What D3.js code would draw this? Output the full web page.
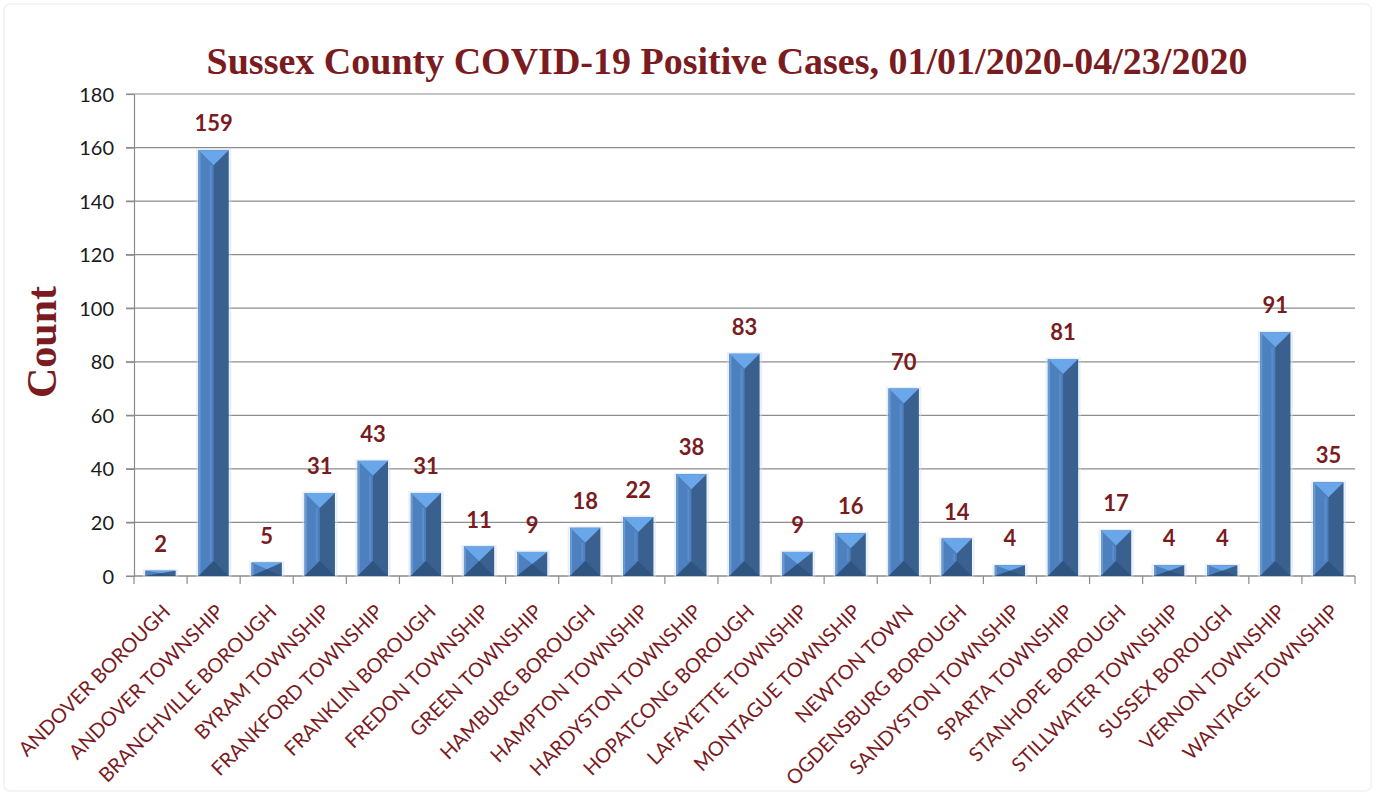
<!DOCTYPE html>
<html><head><meta charset="utf-8">
<script src="https://cdn.jsdelivr.net/npm/d3@7"></script>
<style>
html,body{margin:0;padding:0;background:#fff;}
svg{display:block;}
</style></head>
<body>
<svg id="chart" width="1375" height="803"></svg>
<script>
const categories = ["ANDOVER BOROUGH","ANDOVER TOWNSHIP","BRANCHVILLE BOROUGH","BYRAM TOWNSHIP","FRANKFORD TOWNSHIP","FRANKLIN BOROUGH","FREDON TOWNSHIP","GREEN TOWNSHIP","HAMBURG BOROUGH","HAMPTON TOWNSHIP","HARDYSTON TOWNSHIP","HOPATCONG BOROUGH","LAFAYETTE TOWNSHIP","MONTAGUE TOWNSHIP","NEWTON TOWN","OGDENSBURG BOROUGH","SANDYSTON TOWNSHIP","SPARTA TOWNSHIP","STANHOPE BOROUGH","STILLWATER TOWNSHIP","SUSSEX BOROUGH","VERNON TOWNSHIP","WANTAGE TOWNSHIP"];
const cases = [2,159,5,31,43,31,11,9,18,22,38,83,9,16,70,14,4,81,17,4,4,91,35];
const yTicks = [0,20,40,60,80,100,120,140,160,180];
const titleText = "Sussex County COVID-19 Positive Cases, 01/01/2020-04/23/2020";
const yTitle = "Count";

const svg = d3.select("#chart");
const W = 1375, H = 803;
const m = {left:134, right:20, top:94, bottom:227};
const x0 = m.left, x1 = W - m.right, yTop = m.top, yBot = H - m.bottom;

// faint frame
svg.append("rect").attr("x",4).attr("y",4).attr("width",W-8).attr("height",H-16)
  .attr("fill","#fff").attr("stroke","#f4f4f4").attr("stroke-width",2).attr("rx",6);

const x = d3.scaleBand().domain(categories).range([x0,x1]).paddingInner(0.43).paddingOuter(0.215);
const y = d3.scaleLinear().domain([0,180]).range([yBot,yTop]);

const maroon = "#7a1c1f";

// gridlines
svg.append("g").selectAll("line").data(yTicks).join("line")
  .attr("x1",x0-8).attr("x2",x1).attr("y1",d=>y(d)).attr("y2",d=>y(d))
  .attr("stroke","#8c8c8c").attr("stroke-width",1.2);

// y axis
const yAxis = d3.axisLeft(y).tickValues(yTicks).tickSize(8).tickPadding(12);
const gy = svg.append("g").attr("transform",`translate(${x0},0)`).call(yAxis);
gy.select(".domain").attr("stroke","#8c8c8c").attr("stroke-width",1.2);
gy.selectAll(".tick line").attr("stroke","#8c8c8c").attr("stroke-width",1.2);
gy.selectAll(".tick text").attr("font-family","Lato, 'Open Sans', sans-serif").attr("font-size",20).attr("fill","#1a1a1a").attr("dy","0.35em");

// x axis baseline + ticks at band boundaries
const boundaries = d3.range(categories.length+1).map(i => x0 + i*(x1-x0)/categories.length);
svg.append("line").attr("x1",x0).attr("x2",x1).attr("y1",yBot).attr("y2",yBot).attr("stroke","#8c8c8c").attr("stroke-width",1.2);
svg.append("g").selectAll("line").data(boundaries).join("line")
  .attr("x1",d=>d).attr("x2",d=>d).attr("y1",yBot).attr("y2",yBot+8)
  .attr("stroke","#8c8c8c").attr("stroke-width",1.2);

// bars with bevel
const bw = x.bandwidth();
const gBars = svg.append("g");
categories.forEach((c,i) => {
  const v = cases[i];
  const bx = x(c), bxe = bx + bw, bc = bx + bw/2;
  const top = y(v), bot = y(0);
  const h = bot - top;
  const d = Math.min(15, h/2);
  const g = gBars.append("g");
  g.append("rect").attr("x",bx-1.5).attr("y",top-0.5).attr("width",bw+3).attr("height",h+0.5)
    .attr("fill","none").attr("stroke","#cfe0f4").attr("stroke-width",2).attr("opacity",0.5);
  g.append("rect").attr("x",bx).attr("y",top).attr("width",bw).attr("height",h).attr("fill","#3a6090");
  g.append("path").attr("d",`M${bx},${top} L${bc},${top+d} L${bc},${bot-d} L${bx},${bot} Z`).attr("fill","#4d80bf");
  g.append("path").attr("d",`M${bx+1},${top+1} L${bx+1},${bot-1}`).attr("stroke","#6b9ad3").attr("stroke-width",2).attr("opacity",h>6?1:0);
  g.append("path").attr("d",`M${bc-3},${top+d} L${bc-3},${bot-d}`).attr("stroke","#5b8ccb").attr("stroke-width",2).attr("opacity",h>30?1:0);
  g.append("path").attr("d",`M${bx},${top} L${bxe},${top} L${bc},${top+d} Z`).attr("fill","#6aa6ea");
  g.append("path").attr("d",`M${bx},${bot} L${bc},${bot-d} L${bxe},${bot} Z`).attr("fill","#2f5480");
});

// value labels
svg.append("g").selectAll("text").data(categories).join("text")
  .attr("x",c=>x(c)+bw/2).attr("y",(c,i)=>y(cases[i])-19)
  .attr("text-anchor","middle").attr("font-family","Lato, 'Open Sans', sans-serif")
  .attr("font-weight","bold").attr("font-size",22).attr("fill",maroon)
  .text((c,i)=>cases[i]);

// category labels
svg.append("g").selectAll("text").data(categories).join("text")
  .attr("transform",c=>`translate(${x(c)+bw/2+11},${yBot+37}) rotate(-45)`)
  .attr("text-anchor","end").attr("font-family","Lato, 'Open Sans', sans-serif")
  .attr("font-size",20).attr("fill",maroon)
  .text(c=>c);

// title
svg.append("text").attr("x",727).attr("y",74).attr("text-anchor","middle")
  .attr("font-family","'Liberation Serif','Times New Roman',serif").attr("font-weight","bold")
  .attr("font-size",38).attr("fill",maroon).text(titleText);

// y title
svg.append("text").attr("transform","translate(56,342) rotate(-90)").attr("text-anchor","middle")
  .attr("font-family","'Liberation Serif','Times New Roman',serif").attr("font-weight","bold")
  .attr("font-size",42).attr("fill",maroon).text(yTitle);
</script>
</body></html>
